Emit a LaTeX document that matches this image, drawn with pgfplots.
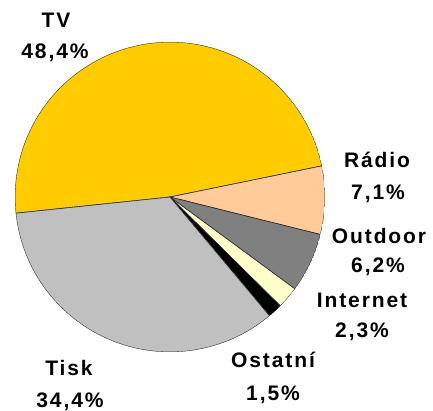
\documentclass[border=0pt]{standalone}
\usepackage{pgfplots}
\usepackage{pgfplotstable}
\pgfplotsset{compat=1.18}
\usepgfplotslibrary{polar}
\usepackage{fontspec}
\setmainfont[LetterSpace=9]{Liberation Sans}

\definecolor{c0}{HTML}{FFCC00}
\definecolor{c1}{HTML}{FFCC99}
\definecolor{c2}{HTML}{808080}
\definecolor{c3}{HTML}{FFFFCC}
\definecolor{c4}{HTML}{000000}
\definecolor{c5}{HTML}{C0C0C0}

\pgfplotstableread{
label value
TV 48.4
Radio 7.1
Outdoor 6.2
Internet 2.3
Ostatni 1.5
Tisk 34.4
}\piedata

\begin{document}
\begin{tikzpicture}[x=1pt,y=1pt]
\useasboundingbox (0,0) rectangle (433,410);
\xdef\total{0}
\foreach \i in {0,...,5}{
  \pgfplotstablegetelem{\i}{value}\of\piedata
  \pgfmathsetmacro\t{\total+\pgfplotsretval}
  \xdef\total{\t}
}
\xdef\cum{186}
\foreach \i in {0,...,5}{
  \pgfplotstablegetelem{\i}{value}\of\piedata
  \pgfmathsetmacro\nxt{\cum-(\pgfplotsretval/\total)*360}
  \expandafter\xdef\csname aS\i\endcsname{\cum}
  \expandafter\xdef\csname aE\i\endcsname{\nxt}
  \xdef\cum{\nxt}
}
\begin{polaraxis}[
  scale only axis, width=310pt, height=310pt,
  ymin=0, ymax=1, hide axis,
  at={(170pt,213pt)}, anchor=center,
]
\pgfplotsinvokeforeach{0,...,5}{
  \edef\tmp{\noexpand\addplot[fill=c#1, draw=black!85, line width=0.6pt,
     domain=\csname aE#1\endcsname:\csname aS#1\endcsname, samples=90, mark=none]
     {1} -- (axis cs:0,0) -- cycle;}
  \tmp
}
\end{polaraxis}
\begin{scope}[every node/.style={font=\fontsize{21}{24}\selectfont\bfseries, anchor=base, inner sep=0pt}]
\node at (56,382) {TV};
\node at (55,351) {48,4\%};
\node at (377,242) {Rádio};
\node at (378,211) {7,1\%};
\node at (379,167) {Outdoor};
\node at (378,138) {6,2\%};
\node at (362,103) {Internet};
\node at (362,73) {2,3\%};
\node at (273,43) {Ostatní};
\node at (273,10) {1,5\%};
\node at (69,35) {Tisk};
\node at (70,3) {34,4\%};
\end{scope}
\end{tikzpicture}
\end{document}
